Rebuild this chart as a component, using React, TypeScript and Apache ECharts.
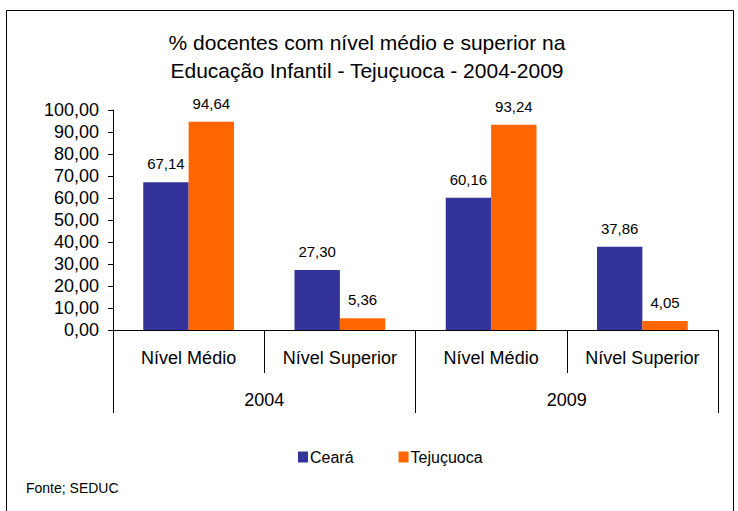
import React, { useEffect, useRef } from "react";
import * as echarts from "echarts";

const categories = ["Nível Médio", "Nível Superior", "Nível Médio", "Nível Superior"];
const years = ["2004", "2009"];
const ceara = [67.14, 27.3, 60.16, 37.86];
const tejucuoca = [94.64, 5.36, 93.24, 4.05];
const yTicks = { min: 0, max: 100, interval: 10 };

const fmt = (v: number) => v.toFixed(2).replace(".", ",");
const FONT = "'Liberation Sans', Arial, sans-serif";

export default function App() {
  const ref = useRef<HTMLDivElement>(null);
  useEffect(() => {
    const chart = echarts.init(ref.current!, null, { renderer: "svg" });
    const labelCfg = {
      show: true,
      position: "top",
      distance: 11,
      fontFamily: FONT,
      fontSize: 15,
      color: "#000",
      formatter: (p: any) => fmt(p.value),
    };
    chart.setOption({
      animation: false,
      textStyle: { fontFamily: FONT, color: "#000" },
      title: {
        text: "% docentes com nível médio e superior na\nEducação Infantil - Tejuçuoca - 2004-2009",
        left: 362,
        textAlign: "center",
        top: 23,
        textStyle: { fontFamily: FONT, fontSize: 21, fontWeight: "normal", color: "#000", lineHeight: 28 },
      },
      legend: {
        top: 449,
        left: 298,
        padding: 0,
        itemWidth: 10,
        itemHeight: 11,
        itemGap: 45,
        icon: "rect",
        textStyle: { fontFamily: FONT, fontSize: 16, color: "#000", padding: [0, 0, 0, -3] },
        data: ["Ceará", "Tejuçuoca"],
      },
      grid: { left: 113, right: 20, top: 110, bottom: 181, containLabel: false },
      xAxis: [
        {
          type: "category",
          data: categories,
          position: "bottom",
          axisLine: { lineStyle: { color: "#000" } },
          axisTick: { show: true, alignWithLabel: false, length: 43, lineStyle: { color: "#000" } },
          axisLabel: { fontFamily: FONT, fontSize: 18, color: "#000", margin: 19 },
        },
        {
          type: "category",
          data: years,
          position: "bottom",
          axisLine: { show: false },
          axisTick: { show: true, alignWithLabel: false, length: 83, lineStyle: { color: "#000" } },
          axisLabel: { fontFamily: FONT, fontSize: 18, color: "#000", margin: 61 },
        },
      ],
      yAxis: {
        type: "value",
        min: yTicks.min,
        max: yTicks.max,
        interval: yTicks.interval,
        axisLine: { show: true, lineStyle: { color: "#000" } },
        axisTick: { show: true, length: 5, lineStyle: { color: "#000" } },
        splitLine: { show: false },
        axisLabel: { fontFamily: FONT, fontSize: 18, color: "#000", margin: 14, formatter: (v: number) => fmt(v) },
      },
      series: [
        {
          name: "Ceará",
          type: "bar",
          xAxisIndex: 0,
          data: ceara,
          barGap: "0%",
          barCategoryGap: "40%",
          itemStyle: { color: "#333399" },
          label: labelCfg,
        },
        {
          name: "Tejuçuoca",
          type: "bar",
          xAxisIndex: 0,
          data: tejucuoca,
          barGap: "0%",
          barCategoryGap: "40%",
          itemStyle: { color: "#FF6600" },
          label: labelCfg,
        },
      ],
      graphic: [
        {
          type: "rect",
          shape: { x: 6.5, y: 10.5, width: 727, height: 520 },
          style: { fill: "none", stroke: "#000", lineWidth: 1 },
          silent: true,
        },
        {
          type: "text",
          left: 26,
          top: 481,
          style: { text: "Fonte; SEDUC", fontFamily: FONT, fontSize: 14, fill: "#000" },
        },
      ],
    });
    return () => chart.dispose();
  }, []);
  return <div ref={ref} style={{ position: "fixed", left: 0, top: 0, width: 738, height: 511, background: "#fff" }} />;
}
